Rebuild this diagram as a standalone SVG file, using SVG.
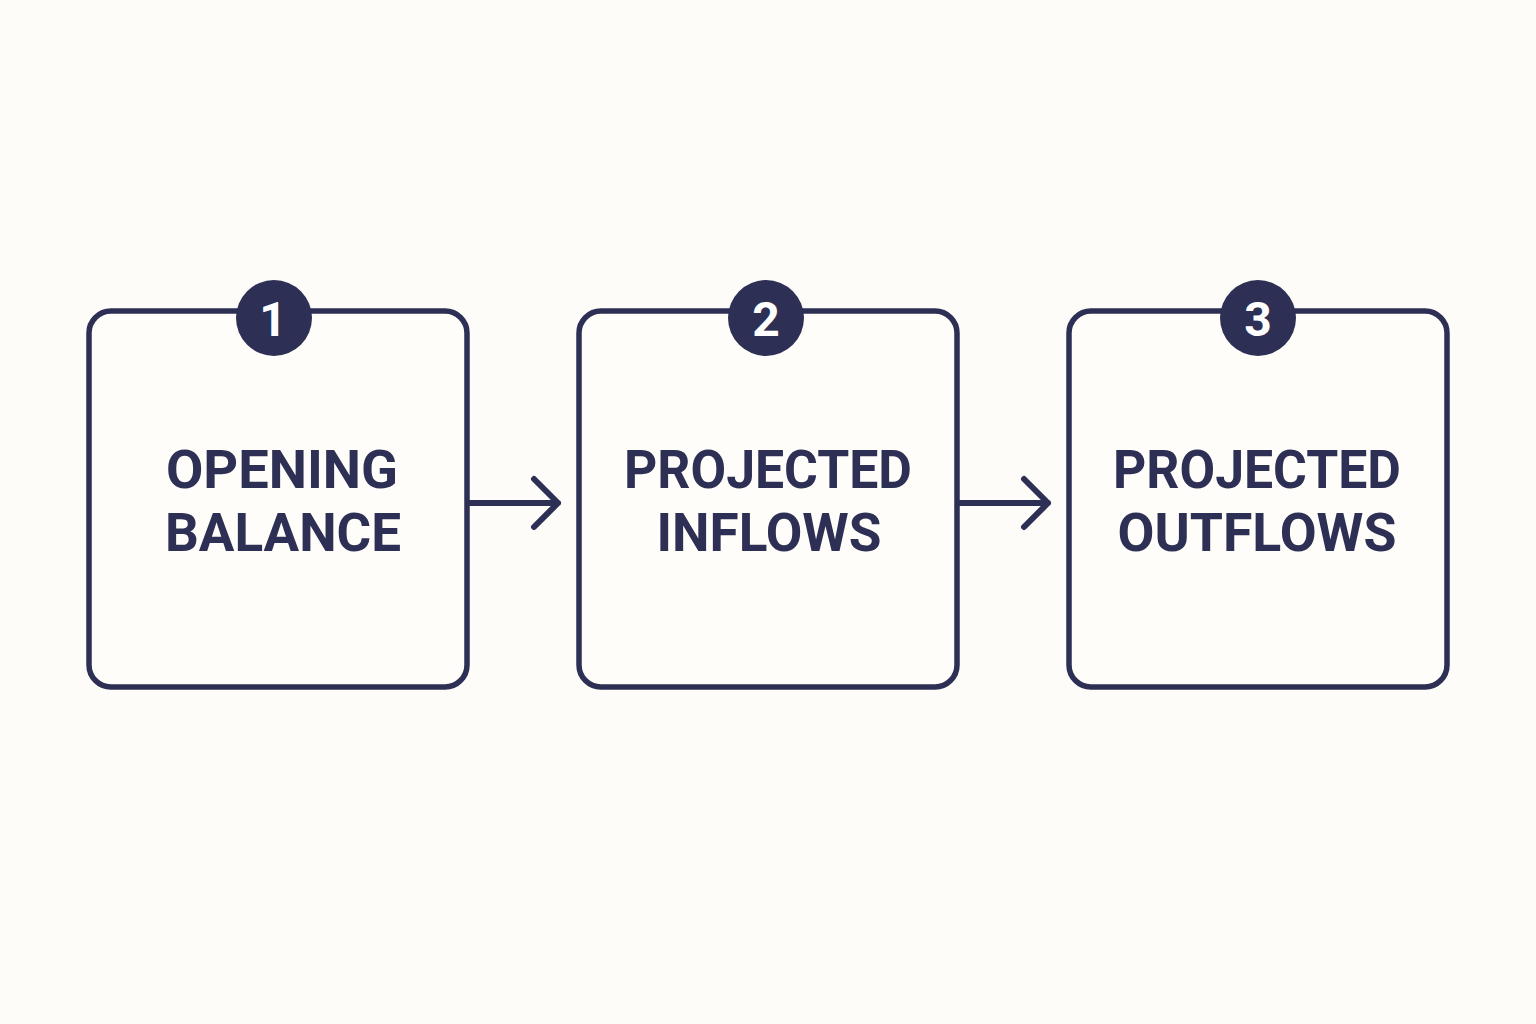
<svg xmlns="http://www.w3.org/2000/svg" width="1536" height="1024" viewBox="0 0 1536 1024">
<style>
.box{fill:#fefdf9;stroke:#2d2f55;stroke-width:5.5}
.badge{fill:#2d2f55}
.num{fill:#ffffff;font-family:Roboto,"Liberation Sans",Arial,sans-serif;font-weight:bold;font-size:48px;text-anchor:middle}
.lbl{fill:#2d2f55;font-family:Roboto,"Liberation Sans",Arial,sans-serif;font-weight:bold;font-size:53px;text-anchor:middle}
.conn{fill:none;stroke:#2d2f55;stroke-width:6;stroke-linecap:round;stroke-linejoin:round}
</style>
<rect width="1536" height="1024" fill="#fdfcf8"/>
<g id="connectors">
<path class="conn" d="M470 503 H558 M534 479 L558 503 L534 527"/>
<path class="conn" d="M960 503 H1048 M1024 479 L1048 503 L1024 527"/>
</g>
<g id="node1">
<rect class="box" x="89" y="311" width="378" height="376" rx="22"/>
<circle class="badge" cx="274" cy="318" r="38"/>
<text class="num" x="273" y="336">1</text>
<text class="lbl" x="282" y="488" textLength="232" lengthAdjust="spacingAndGlyphs">OPENING</text>
<text class="lbl" x="283" y="551" textLength="236" lengthAdjust="spacingAndGlyphs">BALANCE</text>
</g>
<g id="node2">
<rect class="box" x="579" y="311" width="378" height="376" rx="22"/>
<circle class="badge" cx="766" cy="318" r="38"/>
<text class="num" x="766" y="336">2</text>
<text class="lbl" x="768" y="488" textLength="288" lengthAdjust="spacingAndGlyphs">PROJECTED</text>
<text class="lbl" x="769" y="551" textLength="225" lengthAdjust="spacingAndGlyphs">INFLOWS</text>
</g>
<g id="node3">
<rect class="box" x="1069" y="311" width="378" height="376" rx="22"/>
<circle class="badge" cx="1258" cy="318" r="38"/>
<text class="num" x="1258" y="336">3</text>
<text class="lbl" x="1257" y="488" textLength="288" lengthAdjust="spacingAndGlyphs">PROJECTED</text>
<text class="lbl" x="1257" y="551" textLength="279" lengthAdjust="spacingAndGlyphs">OUTFLOWS</text>
</g>
</svg>
